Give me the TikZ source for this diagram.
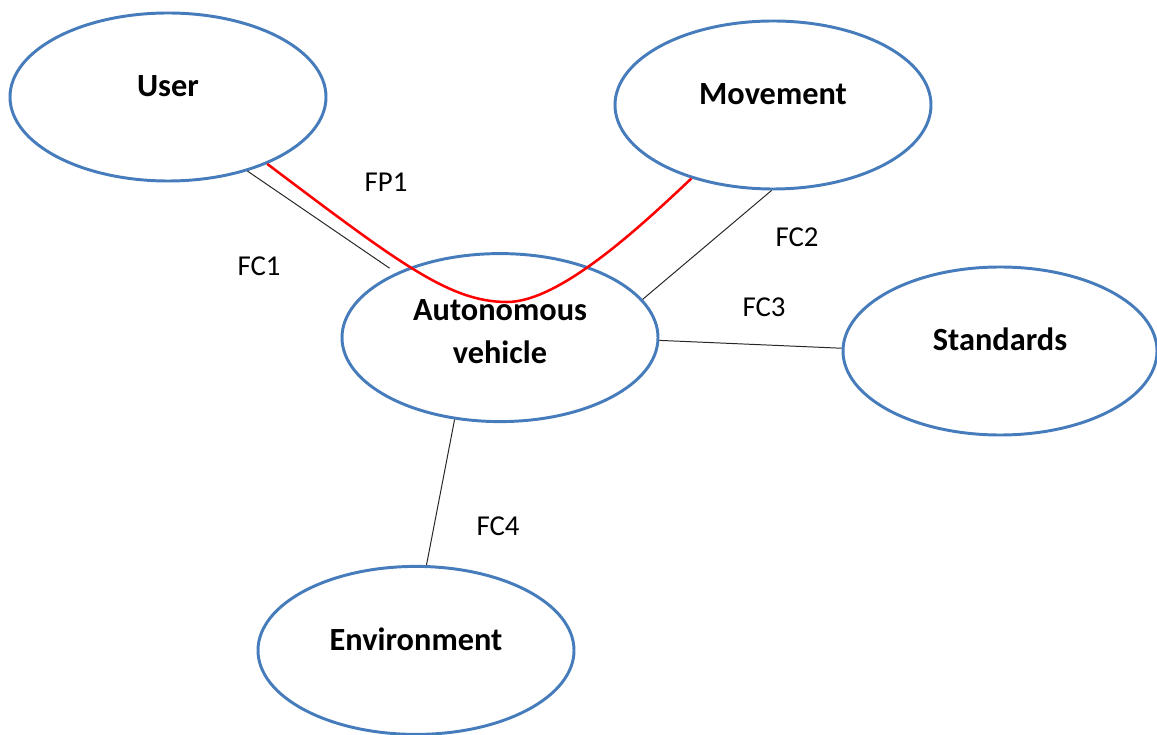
\documentclass[tikz,border=0pt]{standalone}
\usepackage{fontspec}
\setmainfont{Carlito}
\usepackage{tikz}
\usetikzlibrary{shapes.geometric}
\definecolor{shapeblue}{RGB}{70,124,188}

\begin{document}
\begin{tikzpicture}[
  entity/.style={ellipse, draw=shapeblue, line width=2.1pt, minimum width=7.9cm, minimum height=4.2cm, inner sep=0pt, align=center, font=\bfseries\fontsize{23pt}{30.6pt}\selectfont},
  raised/.style={text height=0.55cm, text depth=0.55cm},
  flowlabel/.style={font=\fontsize{20.5pt}{24pt}\selectfont},
  link/.style={draw=black!85, line width=0.7pt},
  path/.style={draw=red, line width=1.8pt}]
\useasboundingbox (0,0) rectangle (28.925,18.35);

\node[entity, raised] (user) at (4.2,15.925) {User};
\node[entity, raised] (movement) at (19.325,15.725) {Movement};
\node[entity, text depth=0.3cm] (auto) at (12.5,9.91) {Autonomous\\vehicle};
\node[entity, raised, minimum width=7.85cm] (standards) at (25.0,9.575) {Standards};
\node[entity, raised] (environment) at (10.4,2.09) {Environment};

\coordinate (fpdip) at (12.675,10.8);

\node[flowlabel] (fpone) at (9.65,13.8) {FP1};
\node[flowlabel] (fcone) at (6.475,11.7) {FC1};
\node[flowlabel] (fctwo) at (19.925,12.425) {FC2};
\node[flowlabel] (fcthree) at (19.1,10.675) {FC3};
\node[flowlabel] (fcfour) at (12.45,5.2) {FC4};

\draw[link, shorten >=0.2cm] (user.-43) -- (auto.148);
\draw[link] (movement.-91) -- (auto.15);
\draw[link] (auto.-1) -- (standards.179);
\draw[link] (auto.-119) -- (environment.83);
\draw[path] (user.-34.5) .. controls (10.0,11.75) and (11.25,10.8) .. (fpdip)
  .. controls (14.0,10.8) and (16.025,12.7) .. (movement.-138);
\end{tikzpicture}
\end{document}
